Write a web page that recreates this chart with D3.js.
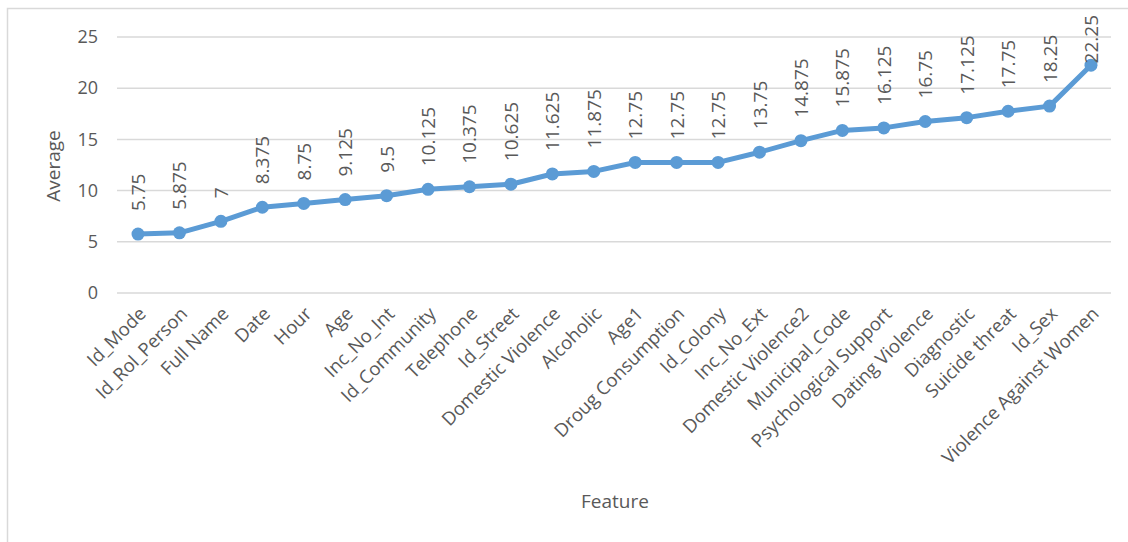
<!DOCTYPE html>
<html><head><meta charset="utf-8">
<script src="https://cdn.jsdelivr.net/npm/d3@7"></script>
<style>body{margin:0;background:#fff}svg{display:block}</style>
</head><body>
<script>
const categories = ["Id_Mode","Id_Rol_Person","Full Name","Date","Hour","Age","Inc_No_Int","Id_Community","Telephone","Id_Street","Domestic Violence","Alcoholic","Age1","Droug Consumption","Id_Colony","Inc_No_Ext","Domestic Violence2","Municipal_Code","Psychological Support","Dating Violence","Diagnostic","Suicide threat","Id_Sex","Violence Against Women"];
const values = [5.75,5.875,7,8.375,8.75,9.125,9.5,10.125,10.375,10.625,11.625,11.875,12.75,12.75,12.75,13.75,14.875,15.875,16.125,16.75,17.125,17.75,18.25,22.25];
const yTicks = [0,5,10,15,20,25];

const W=1128,H=542;
const font='"Open Sans", "Liberation Sans", sans-serif';
const txt='#595959';
const svg=d3.select('body').append('svg').attr('width',W).attr('height',H);
svg.append('rect').attr('x',7.5).attr('y',8.5).attr('width',W).attr('height',H).attr('fill','#fff').attr('stroke','#d9d9d9').attr('stroke-width',1.5);

const x=d3.scaleBand().domain(categories).range([117.3,1111.7]);
const y=d3.scaleLinear().domain([0,25]).range([293,37]);

const grid=svg.append('g');
grid.selectAll('line').data(yTicks).join('line')
 .attr('x1',117).attr('x2',1111).attr('y1',d=>y(d)).attr('y2',d=>y(d))
 .attr('stroke','#d9d9d9').attr('stroke-width',1.5);

const yAxis=svg.append('g').attr('transform','translate(117,0)')
 .call(d3.axisLeft(y).tickValues(yTicks).tickSize(0).tickPadding(19));
yAxis.select('.domain').remove();
yAxis.selectAll('text').attr('font-family',font).attr('font-size',18).attr('fill',txt);

const xAxis=svg.append('g').attr('transform','translate(0,293)')
 .call(d3.axisBottom(x).tickSize(0).tickPadding(0));
xAxis.select('.domain').remove();
xAxis.selectAll('text').attr('font-family',font).attr('font-size',18.5).attr('fill',txt)
 .attr('text-anchor','end').attr('dy',null).attr('y',0)
 .attr('transform','translate(9,22) rotate(-45)');

const cx=d=>x(d)+x.bandwidth()/2;
const line=d3.line().x((d,i)=>cx(categories[i])).y(d=>y(d));
svg.append('path').datum(values).attr('d',line).attr('fill','none').attr('stroke','#5b9bd5').attr('stroke-width',5).attr('stroke-linejoin','round');
svg.selectAll('circle.pt').data(values).join('circle').attr('class','pt')
 .attr('cx',(d,i)=>cx(categories[i])).attr('cy',d=>y(d)).attr('r',6.5).attr('fill','#5b9bd5');

const lbl=svg.selectAll('text.lbl').data(values).join('text').attr('class','lbl')
 .attr('font-family',font).attr('font-size',19).attr('fill',txt).attr('text-anchor','start')
 .text(d=>d);
lbl.each(function(d,i){
  const len=this.getComputedTextLength();
  const base=Math.max(y(d)-23, 15+len);
  d3.select(this).attr('transform',`translate(${cx(categories[i])+7},${base}) rotate(-90)`);
});

svg.append('text').attr('transform','translate(60,166) rotate(-90)').attr('text-anchor','middle')
 .attr('font-family',font).attr('font-size',19).attr('fill',txt).text('Average');
svg.append('text').attr('x',615).attr('y',508).attr('text-anchor','middle')
 .attr('font-family',font).attr('font-size',19).attr('fill',txt).text('Feature');
</script>
</body></html>
